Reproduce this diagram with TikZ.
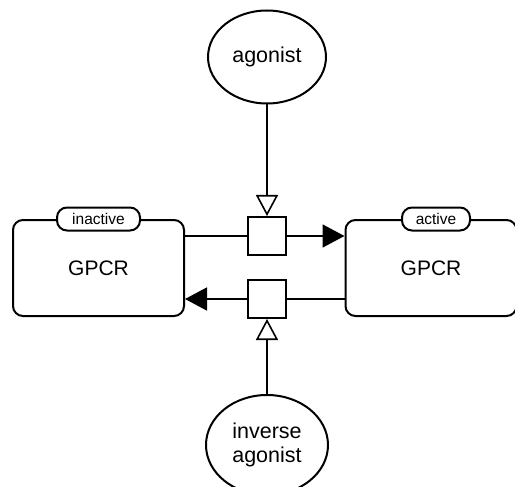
\documentclass[tikz,border=0pt]{standalone}
\usepackage{fontspec}
\setmainfont{Liberation Sans}
\usetikzlibrary{arrows.meta,shapes.geometric}

\begin{document}
\begin{tikzpicture}[x=1pt,y=-1pt,
        macro/.style={draw,line width=2pt,rounded corners=10pt,minimum width=171pt,minimum height=96pt,font=\fontsize{21}{24}\selectfont},
        statevar/.style={draw,fill=white,line width=2pt,rounded corners=10pt,minimum height=23pt,inner sep=0pt,font=\fontsize{15.5}{17}\selectfont},
        process/.style={draw,line width=2pt,minimum size=38pt,inner sep=0pt},
        simple/.style={draw,ellipse,line width=2pt,minimum width=118pt,minimum height=93pt,inner sep=0pt,align=center,font=\fontsize{21.5}{24}\selectfont},
        conv/.style={line width=1.6pt,-{Triangle[length=22pt,width=23pt]}},
        stim/.style={line width=1.6pt,-{Triangle[open,length=21pt,width=22pt,fill=white]}}]
    \useasboundingbox (0,0) rectangle (515,487);
        \node [macro] (inact) at (98.5,268) {GPCR};
        \node [macro] (act) at (431,268) {GPCR};
        \node [statevar,minimum width=83pt] (sinact) at (inact.north) {inactive};
        \node [statevar,minimum width=68pt] (sact) at ([xshift=5pt]act.north) {active};
        \node [process] (p1) at (267,236) {};
        \node [process] (p2) at (267,299) {};
        \node [simple] (ag) at (267,57) {agonist};
        \node [simple,minimum width=122pt,minimum height=100pt] (inv) at (267,445) {inverse\\agonist};
        \draw [line width=1.6pt] (p1.west -| inact.east) -- (p1.west);
        \draw [conv] (p1.east) -- (p1.east -| act.west);
        \draw [line width=1.6pt] (p2.east -| act.west) -- (p2.east);
        \draw [conv] (p2.west) -- (p2.west -| inact.east);
        \draw [stim] (ag) -- (p1);
        \draw [stim] (inv) -- (p2);
    \end{tikzpicture}
\end{document}
